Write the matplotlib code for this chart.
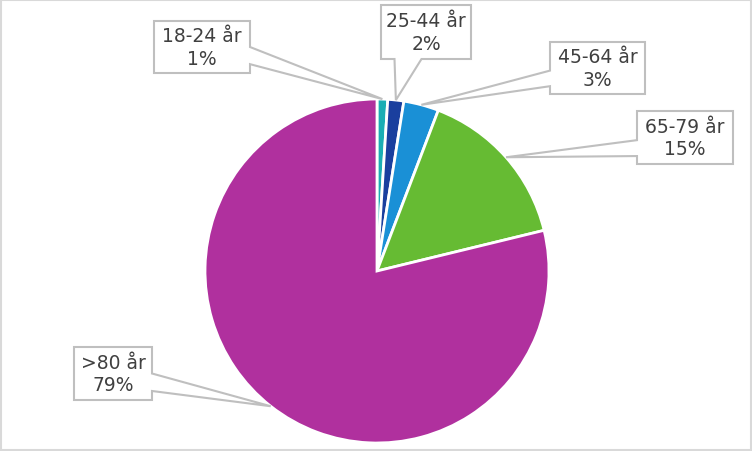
import numpy as np
import matplotlib.pyplot as plt
from matplotlib.patches import Polygon, Rectangle

# Data
groups = ["18-24 år", "25-44 år", "45-64 år", "65-79 år", ">80 år"]
shares = [1.0, 1.5, 3.3, 15.4, 78.8]
shown_pct = ["1%", "2%", "3%", "15%", "79%"]
colors = ["#1aaeb4", "#1a3f9e", "#1a90d6", "#66bb33", "#b0309e"]

# label boxes in pixel coords (left, top, right, bottom) and which side the pointer leaves
boxes = [(154, 22, 250, 74, "right"),
         (381, 6, 471, 60, "bottom"),
         (550, 43, 645, 95, "left"),
         (637, 112, 733, 165, "left"),
         (74, 348, 152, 401, "right")]

W, H = 752, 452
cx, cy, R = 377, H - 272, 172

fig = plt.figure(figsize=(7.52, 4.52), dpi=100)
ax = fig.add_axes([0, 0, 1, 1])
ax.pie(shares, colors=colors, startangle=90, counterclock=False,
       center=(cx, cy), radius=R,
       wedgeprops=dict(edgecolor="white", linewidth=2))
ax.set_xlim(0, W)
ax.set_ylim(0, H)
ax.set_aspect("equal")
ax.axis("off")

# outer chart border
ax.add_patch(Rectangle((1, 1), W - 2, H - 2, fill=False, edgecolor="#d9d9d9", lw=1.5))

cum = np.cumsum([0] + shares)
for i, (g, p) in enumerate(zip(groups, shown_pct)):
    mid = (cum[i] + cum[i + 1]) / 2 / 100 * 2 * np.pi
    axp, ayp = cx + R * np.sin(mid), cy + R * np.cos(mid)
    l, t, r, b, side = boxes[i]
    t, b = H - t, H - b
    # callout polygon: box with a wedge toward the slice
    if side == "right":
        pts = [(l, t), (r, t), (r, b + 0.5 * (t - b)), (axp, ayp),
               (r, b + 0.17 * (t - b)), (r, b), (l, b)]
    elif side == "left":
        pts = [(l, t), (r, t), (r, b), (l, b), (l, b + 0.15 * (t - b)),
               (axp, ayp), (l, b + 0.45 * (t - b))]
    else:
        pts = [(l, t), (r, t), (r, b), (l + 0.45 * (r - l), b), (axp, ayp),
               (l + 0.15 * (r - l), b), (l, b)]
    ax.add_patch(Polygon(pts, closed=True, facecolor="white",
                         edgecolor="#bfbfbf", lw=1.5, zorder=5))
    ax.text((l + r) / 2, (t + b) / 2, f"{g}\n{p}", ha="center", va="center",
            fontsize=13.5, color="#404040", linespacing=1.25, zorder=6)

fig.savefig("out.png", dpi=100)
